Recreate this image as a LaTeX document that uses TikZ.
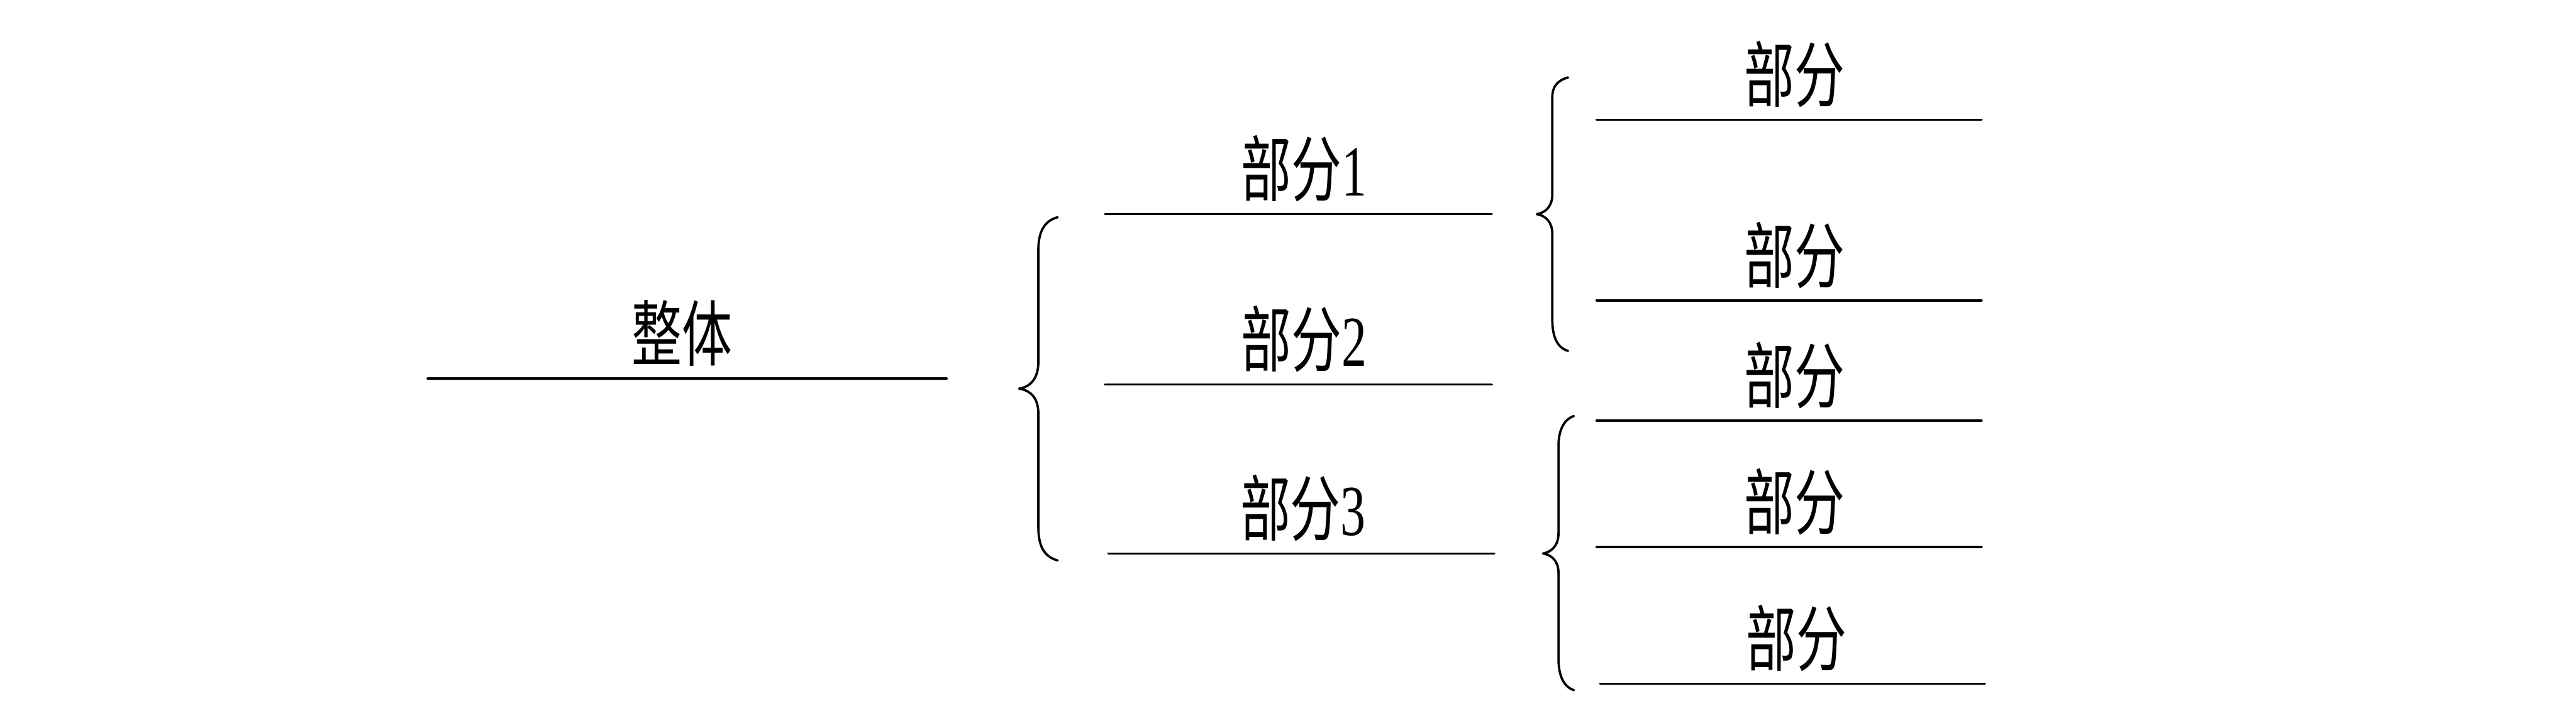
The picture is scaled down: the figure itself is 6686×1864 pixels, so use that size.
\documentclass[tikz,border=0pt]{standalone}
\usepackage{fontspec}
\setmainfont{Liberation Serif}
\newfontfamily\cjk{Noto Sans CJK SC}
\newcommand\lbltext[1]{\scalebox{0.7}[1]{\fontsize{53pt}{60pt}\selectfont #1}}
\begin{document}
\begin{tikzpicture}[x=0.01cm,y=-0.01cm,
  lbl/.style={inner sep=0pt,anchor=base},
  rule/.style={line width=0.06cm,line cap=round},
  bracepath/.style={line width=0.06cm,line cap=round,line join=round}]
\useasboundingbox (0,0) rectangle (6686,1864);
% whole
\node[lbl] (whole) at (1770,936) {\lbltext{{\cjk 整体}}};
\draw[rule] (1110,983) -- (2457,983);
% big brace
\draw[bracepath] (2745,564) .. controls (2708,574) and (2695,605) .. (2695,650)
  -- (2695,940) .. controls (2695,985) and (2672,1005) .. (2645,1009)
  .. controls (2672,1013) and (2695,1030) .. (2695,1074)
  -- (2695,1368) .. controls (2695,1415) and (2708,1445) .. (2745,1455);
% middle column
\node[lbl] (p1) at (3385,509) {\lbltext{{\cjk 部分}1}};
\node[lbl] (p2) at (3385,951) {\lbltext{{\cjk 部分}2}};
\node[lbl] (p3) at (3382,1390) {\lbltext{{\cjk 部分}3}};
\draw[rule] (2868,556) -- (3872,556);
\draw[rule] (2868,998) -- (3872,998);
\draw[rule] (2877,1437) -- (3878,1437);
% upper right brace
\draw[bracepath] (4070,201) .. controls (4042,209) and (4029,225) .. (4029,252)
  -- (4029,505) .. controls (4029,535) and (4012,552) .. (3989,556)
  .. controls (4012,560) and (4029,577) .. (4029,607)
  -- (4029,830) .. controls (4029,875) and (4042,903) .. (4070,911);
% lower right brace
\draw[bracepath] (4085,1080) .. controls (4057,1090) and (4045,1120) .. (4045,1159)
  -- (4045,1385) .. controls (4045,1415) and (4028,1433) .. (4005,1437)
  .. controls (4028,1441) and (4045,1457) .. (4045,1487)
  -- (4045,1710) .. controls (4045,1752) and (4057,1782) .. (4085,1792);
% right column
\node[lbl] (r1) at (4658,264) {\lbltext{\cjk 部分}};
\node[lbl] (r2) at (4658,733) {\lbltext{\cjk 部分}};
\node[lbl] (r3) at (4658,1045) {\lbltext{\cjk 部分}};
\node[lbl] (r4) at (4658,1373) {\lbltext{\cjk 部分}};
\node[lbl] (r5) at (4662,1728) {\lbltext{\cjk 部分}};
\draw[rule] (4144,311) -- (5143,311);
\draw[rule] (4144,780) -- (5143,780);
\draw[rule] (4144,1092) -- (5143,1092);
\draw[rule] (4144,1420) -- (5143,1420);
\draw[rule] (4153,1775) -- (5152,1775);
\end{tikzpicture}
\end{document}
